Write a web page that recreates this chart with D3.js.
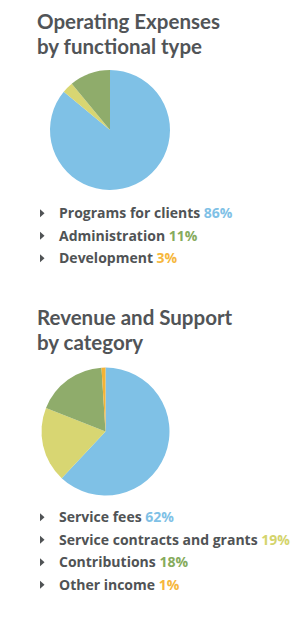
<!DOCTYPE html>
<html>
<head>
<meta charset="utf-8">
<script src="https://cdn.jsdelivr.net/npm/d3@7"></script>
<style>
    body { margin: 0; background: #fff; }
    text { font-family: "Open Sans", Lato, sans-serif; font-weight: 700; }
    text.title { font-family: Lato, "Open Sans", sans-serif; }
</style>
</head>
<body>
<script>
// operating expenses
var expenseLabels = ["Programs for clients", "Administration", "Development"];
var expenseValues = [86, 11, 3];
// slice order in the pie (clockwise from top)
var expensePieOrder = ["Programs for clients", "Development", "Administration"];

// revenue and support
var revenueLabels = ["Service fees", "Service contracts and grants", "Contributions", "Other income"];
var revenueValues = [62, 19, 18, 1];

var sliceColor = {
    "Programs for clients": "#7fc1e6",
    "Administration": "#8fac6b",
    "Development": "#d8d672",
    "Service fees": "#7fc1e6",
    "Service contracts and grants": "#d8d672",
    "Contributions": "#8fac6b",
    "Other income": "#f5b335"
};
var pctColor = {
    "Programs for clients": "#7fc1e6",
    "Administration": "#86ab5c",
    "Development": "#f6b73c",
    "Service fees": "#7fc1e6",
    "Service contracts and grants": "#d4d46c",
    "Contributions": "#86ab5c",
    "Other income": "#f6b73c"
};

var w = 305, h = 619;
var svg = d3.select("body").append("svg").attr("width", w).attr("height", h);

function draw_block(title, titleY, labels, values, pieOrder, cx, cy, r, legendY) {
    var g = svg.append("g");
    g.selectAll("text.title")
        .data(title)
        .enter()
        .append("text")
        .attr("class", "title")
        .attr("x", 37)
        .attr("y", function(d, i) { return titleY + i * 25; })
        .style("font-size", "20.5px")
        .style("fill", "#515457")
        .text(function(d) { return d; });

    var data = pieOrder.map(function(l) {
        return {label: l, value: values[labels.indexOf(l)]};
    });
    var pie = d3.pie().sort(null).value(function(d) { return d.value; });
    var arc = d3.arc().innerRadius(0).outerRadius(r);
    g.append("g")
        .attr("transform", "translate(" + cx + "," + cy + ")")
        .selectAll("path")
        .data(pie(data))
        .enter()
        .append("path")
        .attr("d", arc)
        .style("fill", function(d) { return sliceColor[d.data.label]; });

    var y = d3.scaleBand().domain(labels).range([legendY, legendY + labels.length * 22.5]);
    var rows = g.selectAll("g.row")
        .data(labels)
        .enter()
        .append("g")
        .attr("transform", function(d) { return "translate(0," + (y(d) + y.bandwidth() / 2) + ")"; });
    rows.append("path")
        .attr("d", "M40,-4L44.5,0L40,4Z")
        .style("fill", "#505355");
    var t = rows.append("text")
        .attr("x", 59)
        .attr("y", 5)
        .style("font-size", "14px");
    t.append("tspan").style("fill", "#505355").text(function(d) { return d + " "; });
    t.append("tspan").style("fill", function(d) { return pctColor[d]; })
        .text(function(d, i) { return values[i] + "%"; });
}

draw_block(["Operating Expenses", "by functional type"], 29, expenseLabels, expenseValues,
    expensePieOrder, 110, 130, 60, 202);
draw_block(["Revenue and Support", "by category"], 325, revenueLabels, revenueValues,
    revenueLabels, 105.5, 431.5, 64, 506);
</script>
</body>
</html>
